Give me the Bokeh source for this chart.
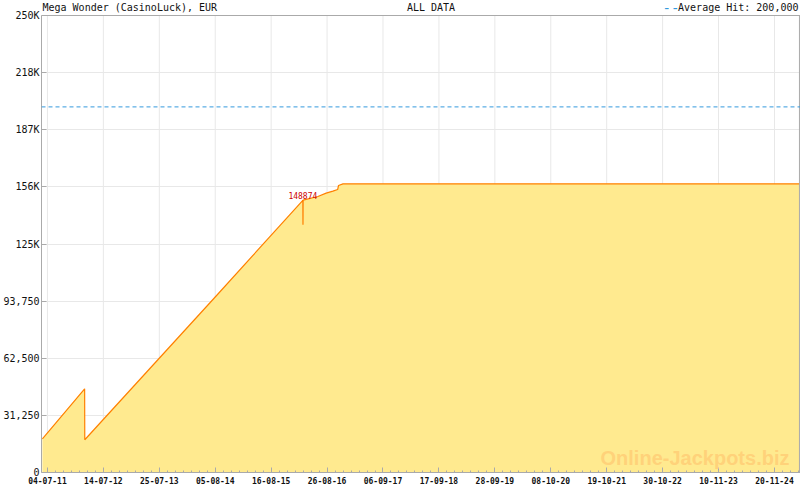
import pandas as pd
from bokeh.plotting import figure
from bokeh.models import Range1d, FixedTicker, DatetimeTickFormatter, Span, Label
from bokeh.embed import file_html
from bokeh.resources import INLINE

# ---- data ----
dates = ["2011-05-31", "2012-03-10", "2012-03-11", "2014-08-05", "2016-03-16",
         "2016-03-17", "2016-03-18", "2016-06-25", "2016-08-20", "2016-10-04",
         "2016-11-05", "2016-11-11", "2016-12-11", "2025-05-07"]
values = [18400, 45800, 17900, 96000, 148874,
          135500, 149000, 151000, 152800, 153900,
          154800, 157000, 157900, 157900]
peak_date = "2016-03-16"
peak_value = 148874
average_hit = 200000
x_tick_dates = ["2011-07-04", "2012-07-14", "2013-07-25", "2014-08-05", "2015-08-16",
                "2016-08-26", "2017-09-06", "2018-09-17", "2019-09-28", "2020-10-08",
                "2021-10-19", "2022-10-30", "2023-11-10", "2024-11-20"]
y_ticks = [0, 31250, 62500, 93750, 125000, 156250, 187500, 218750, 250000]
y_tick_labels = ["0", "31,250", "62,500", "93,750", "125K", "156K", "187K", "218K", "250K"]
y_max = 250000
x_start, x_last, x_range_end = "2011-05-25", "2025-05-07", "2025-05-14"
title_left = "Mega Wonder (CasinoLuck), EUR"
title_mid = "ALL DATA"
title_mid_at = "2018-02-14"
legend_text = "Average Hit: 200,000"
watermark = "Online-Jackpots.biz"

# ---- helpers ----
def ms(d):
    return pd.Timestamp(d).value / 1e6

xs = [pd.Timestamp(d) for d in dates]
major = [ms(d) for d in x_tick_dates]
step = major[1] - major[0]
sub = step / 7.0
minor = []
t = major[0]
while t - sub >= ms(x_start):
    t -= sub
    minor.append(t)
t = major[0]
while t <= ms(x_range_end):
    minor.append(t)
    t += sub

W, H = 800, 490
LEFT, BOTTOM = 40, 18
FRAME_H = H - BOTTOM          # frame runs to the top of the canvas
PLOT_TOP_PX = 15              # where 250K sits
y_top = y_max * FRAME_H / (FRAME_H - PLOT_TOP_PX)

MONO = "DejaVu Sans Mono"
AXC = "#aaaaaa"
GRID = "#e8e8e8"

p = figure(width=W, height=H, x_axis_type="datetime", output_backend="svg",
           toolbar_location=None, min_border_left=LEFT, min_border_right=0,
           min_border_top=0, min_border_bottom=BOTTOM,
           x_range=Range1d(pd.Timestamp(x_start), pd.Timestamp(x_range_end)),
           y_range=Range1d(0, y_top))
p.background_fill_color = "white"
p.border_fill_color = "white"
p.outline_line_color = None

# vertical grid lines only inside the 0..250K box
p.xgrid.visible = False
p.segment(x0=[pd.Timestamp(d) for d in x_tick_dates], y0=0,
          x1=[pd.Timestamp(d) for d in x_tick_dates], y1=y_max,
          line_color=GRID, line_width=1, level="underlay")
p.ygrid.ticker = FixedTicker(ticks=y_ticks)
p.ygrid.grid_line_color = GRID

p.varea(x=xs, y1=0, y2=values, fill_color="#ffea8f")
p.line(x=xs, y=values, line_color="#ff8000", line_width=1.2)

p.add_layout(Span(location=average_hit, dimension="width", line_color="#3399dd",
                  line_dash="4 3", line_width=1))

# box border (top and right)
p.add_layout(Span(location=y_max, dimension="width", line_color=AXC, line_width=1))
p.segment(x0=[pd.Timestamp(x_last)], y0=[0], x1=[pd.Timestamp(x_last)], y1=[y_max],
          line_color=AXC, line_width=1)

# axes
p.xaxis.ticker = FixedTicker(ticks=major, minor_ticks=minor)
fmt = "%d-%m-%y"
p.xaxis.formatter = DatetimeTickFormatter(milliseconds=fmt, seconds=fmt, minsec=fmt,
                                          minutes=fmt, hourmin=fmt, hours=fmt, days=fmt,
                                          months=fmt, years=fmt)
p.yaxis.ticker = FixedTicker(ticks=y_ticks)
p.yaxis.major_label_overrides = {float(v): s for v, s in zip(y_ticks, y_tick_labels)}
p.yaxis.bounds = (0, y_max)

for ax in (p.xaxis, p.yaxis):
    ax.axis_line_color = AXC
    ax.major_tick_line_color = AXC
    ax.minor_tick_line_color = AXC
    ax.major_tick_in = 5
    ax.major_tick_out = 0
    ax.minor_tick_in = 2
    ax.minor_tick_out = 0
    ax.major_label_text_font = MONO
    ax.major_label_text_color = "#111111"
p.yaxis.minor_tick_line_color = None
p.yaxis.major_label_text_font_size = "10px"
p.yaxis.major_label_standoff = 2
p.xaxis.major_label_text_font_size = "8px"
p.xaxis.major_label_text_font_style = "bold"
p.xaxis.major_label_standoff = 4

# annotations
p.add_layout(Label(x=pd.Timestamp(peak_date), y=peak_value, text=str(peak_value),
                   text_align="center", text_baseline="bottom", y_offset=1,
                   text_font=MONO, text_font_size="8px", text_color="#cc0000"))

# header texts: x in data units, y in screen units (from the frame's bottom)
head_y = FRAME_H - 7
top = dict(y=head_y, y_units="screen", text_baseline="middle",
           text_font=MONO, text_font_size="10px", text_color="#111111")
p.add_layout(Label(x=pd.Timestamp(x_start), x_offset=1, text=title_left,
                   text_align="left", **top))
p.add_layout(Label(x=pd.Timestamp(title_mid_at), text=title_mid, text_align="left", **top))
p.add_layout(Label(x=pd.Timestamp(x_last), x_offset=-1, text=legend_text,
                   text_align="right", **top))
top_blue = dict(top)
top_blue["text_color"] = "#3399dd"
top_blue["text_font_size"] = "14px"
p.add_layout(Label(x=pd.Timestamp(x_last), x_offset=-137, text="--",
                   text_align="left", **top_blue))

p.add_layout(Label(x=pd.Timestamp(x_last), x_offset=-10, y=FRAME_H - 457, y_units="screen",
                   text=watermark, text_align="right", text_baseline="middle",
                   text_font="Liberation Sans", text_font_style="bold",
                   text_font_size="20px", text_color="#ffd27a"))

open("out.html", "w").write(file_html(p, INLINE))
